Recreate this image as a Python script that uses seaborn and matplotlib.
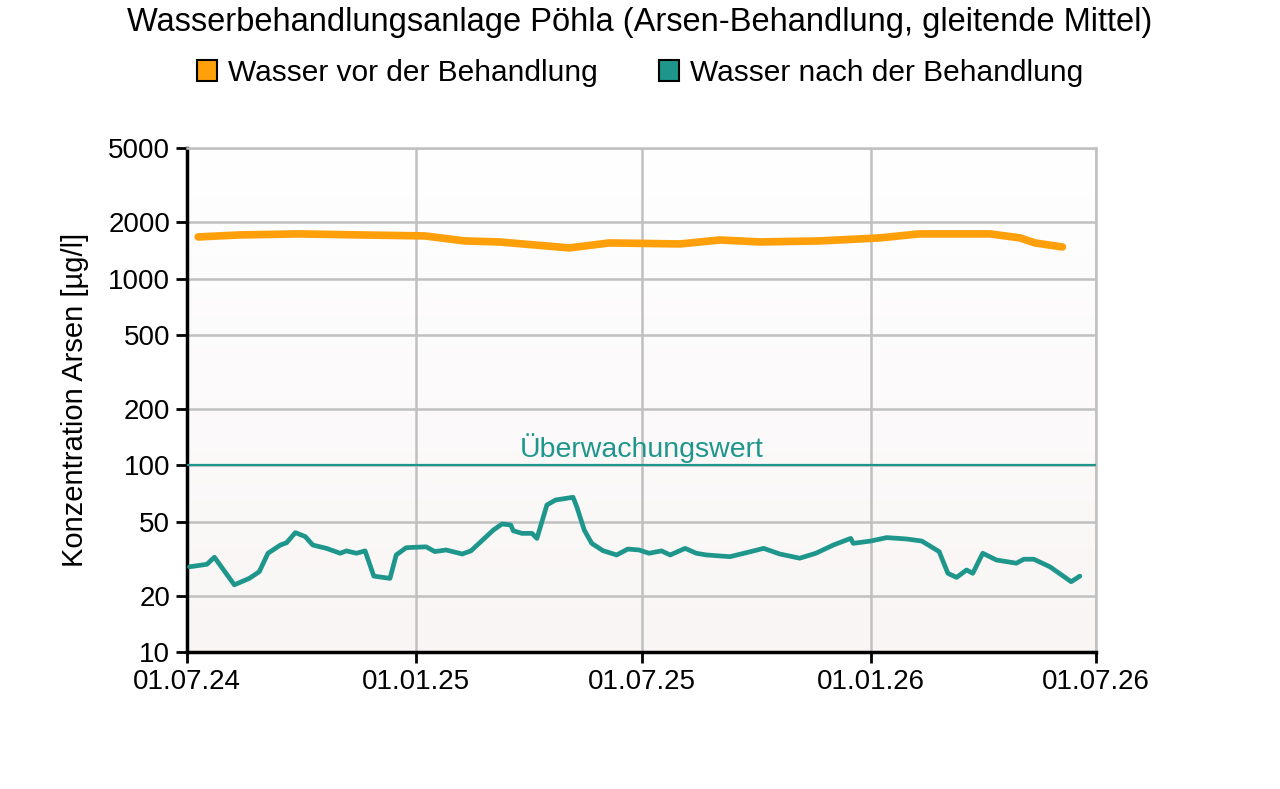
import matplotlib
matplotlib.use("Agg")
import matplotlib.pyplot as plt
import matplotlib.dates as mdates
from matplotlib.patches import Patch
import numpy as np
import pandas as pd
import seaborn as sns

# Daten
vor_datum = ["2024-07-10", "2024-08-12", "2024-09-29", "2024-11-17", "2025-01-08",
             "2025-02-09", "2025-03-09", "2025-05-04", "2025-06-05", "2025-08-01",
             "2025-09-02", "2025-10-04", "2025-11-21", "2026-01-08", "2026-02-09",
             "2026-04-07", "2026-05-01", "2026-05-13", "2026-06-04"]
vor_wert = [1670, 1712, 1734, 1712, 1691, 1590, 1570, 1459, 1551, 1532,
            1609, 1570, 1590, 1650, 1734, 1734, 1650, 1551, 1476]

nach_datum = ["2024-07-03", "2024-07-17", "2024-07-23", "2024-08-08", "2024-08-20",
              "2024-08-28", "2024-09-04", "2024-09-14", "2024-09-19", "2024-09-26",
              "2024-10-04", "2024-10-10", "2024-10-21", "2024-11-01", "2024-11-06",
              "2024-11-14", "2024-11-21", "2024-11-28", "2024-12-11", "2024-12-16",
              "2024-12-24", "2025-01-09", "2025-01-16", "2025-01-25", "2025-02-07",
              "2025-02-14", "2025-03-04", "2025-03-11", "2025-03-18", "2025-03-20",
              "2025-03-27", "2025-04-04", "2025-04-08", "2025-04-16", "2025-04-23",
              "2025-05-07", "2025-05-10", "2025-05-16", "2025-05-22", "2025-05-31",
              "2025-06-11", "2025-06-20", "2025-06-29", "2025-07-07", "2025-07-17",
              "2025-07-24", "2025-08-05", "2025-08-14", "2025-08-22", "2025-09-10",
              "2025-09-29", "2025-10-07", "2025-10-20", "2025-11-05", "2025-11-18",
              "2025-12-02", "2025-12-16", "2025-12-18", "2026-01-01", "2026-01-14",
              "2026-01-30", "2026-02-11", "2026-02-25", "2026-03-04", "2026-03-11",
              "2026-03-19", "2026-03-24", "2026-04-01", "2026-04-12", "2026-04-28",
              "2026-05-04", "2026-05-12", "2026-05-25", "2026-06-11", "2026-06-18"]
nach_wert = [28.6, 29.5, 32.2, 22.9, 24.8, 26.9, 33.8, 37.4, 38.5, 43.6,
             41.5, 37.4, 35.9, 33.8, 34.8, 33.8, 34.8, 25.5, 24.8, 33.1,
             36.2, 36.6, 34.5, 35.2, 33.5, 34.8, 45.0, 48.5, 47.9, 44.6,
             43.2, 43.2, 40.6, 61.3, 65.2, 67.4, 60.0, 45.0, 38.2, 34.9,
             33.1, 35.6, 35.2, 33.8, 34.8, 33.1, 35.9, 33.8, 33.1, 32.4,
             34.8, 35.9, 33.5, 31.8, 33.8, 37.4, 40.6, 38.2, 39.3, 41.0,
             40.3, 39.3, 34.5, 26.4, 25.1, 27.5, 26.4, 33.8, 31.1, 29.9,
             31.4, 31.4, 28.6, 23.8, 25.5]

grenzwert = 100
y_ticks = [10, 20, 50, 100, 200, 500, 1000, 2000, 5000]
x_ticks = ["2024-07-01", "2025-01-01", "2025-07-01", "2026-01-01", "2026-07-01"]

orange = "#FF9F0A"
teal = "#1E968C"

df_vor = pd.DataFrame({"Datum": pd.to_datetime(vor_datum), "Wert": vor_wert})
df_nach = pd.DataFrame({"Datum": pd.to_datetime(nach_datum), "Wert": nach_wert})

sns.set_style("white")
plt.rcParams["font.family"] = ["Liberation Sans", "DejaVu Sans"]
plt.rcParams["text.color"] = "black"

fig = plt.figure(figsize=(12.8, 7.89), dpi=100)
ax = fig.add_axes([0.1461, 0.1736, 0.7102, 0.6388])

# leichter Farbverlauf im Hintergrund
grad = np.linspace(0, 1, 256).reshape(-1, 1)
ax.imshow(grad, extent=[0, 1, 0, 1], transform=ax.transAxes, aspect="auto",
          cmap=matplotlib.colors.LinearSegmentedColormap.from_list("bg", ["#F9F5F5", "#FFFFFF"]),
          origin="lower", zorder=0)

sns.lineplot(data=df_vor, x="Datum", y="Wert", color=orange, linewidth=5.5, ax=ax, zorder=4)
sns.lineplot(data=df_nach, x="Datum", y="Wert", color=teal, linewidth=3.4, ax=ax, zorder=4)
ax.axhline(grenzwert, color=teal, linewidth=1.6, zorder=3)
ax.text(pd.Timestamp("2025-07-01"), grenzwert * 1.025, "Überwachungswert", color=teal,
        fontsize=20.5, ha="center", va="bottom")

ax.set_yscale("log")
ax.set_ylim(10, 5000)
ax.set_xlim(pd.Timestamp(x_ticks[0]), pd.Timestamp(x_ticks[-1]))
ax.set_yticks(y_ticks)
ax.set_yticklabels([str(t) for t in y_ticks])
ax.yaxis.set_minor_locator(matplotlib.ticker.NullLocator())
ax.set_xticks(pd.to_datetime(x_ticks))
ax.xaxis.set_major_formatter(mdates.DateFormatter("%d.%m.%y"))

ax.grid(True, color="#C0C0C0", linewidth=1.8, zorder=1)
ax.set_axisbelow(True)
ax.tick_params(axis="both", labelsize=20, length=8, width=2, colors="black", pad=4,
               left=True, bottom=True)
for side in ["left", "bottom"]:
    ax.spines[side].set_color("black")
    ax.spines[side].set_linewidth(2.5)
for side in ["top", "right"]:
    ax.spines[side].set_color("#C0C0C0")
    ax.spines[side].set_linewidth(1.8)

ax.set_xlabel("")
ax.set_ylabel("Konzentration Arsen [µg/l]", fontsize=21, labelpad=14, color="black")

fig.text(0.5, 1 - 22 / 789, "Wasserbehandlungsanlage Pöhla (Arsen-Behandlung, gleitende Mittel)",
         fontsize=23.5, ha="center", va="center", color="black")
handles = [Patch(facecolor=orange, edgecolor="black", linewidth=1.5),
           Patch(facecolor=teal, edgecolor="black", linewidth=1.5)]
fig.legend(handles, ["Wasser vor der Behandlung", "Wasser nach der Behandlung"],
           loc="center", bbox_to_anchor=(0.5, 1 - 73 / 789), ncol=2, frameon=False,
           fontsize=21.5, handlelength=0.67, handleheight=0.67, handletextpad=0.37,
           columnspacing=2.07)

fig.savefig("out.png", dpi=100)
